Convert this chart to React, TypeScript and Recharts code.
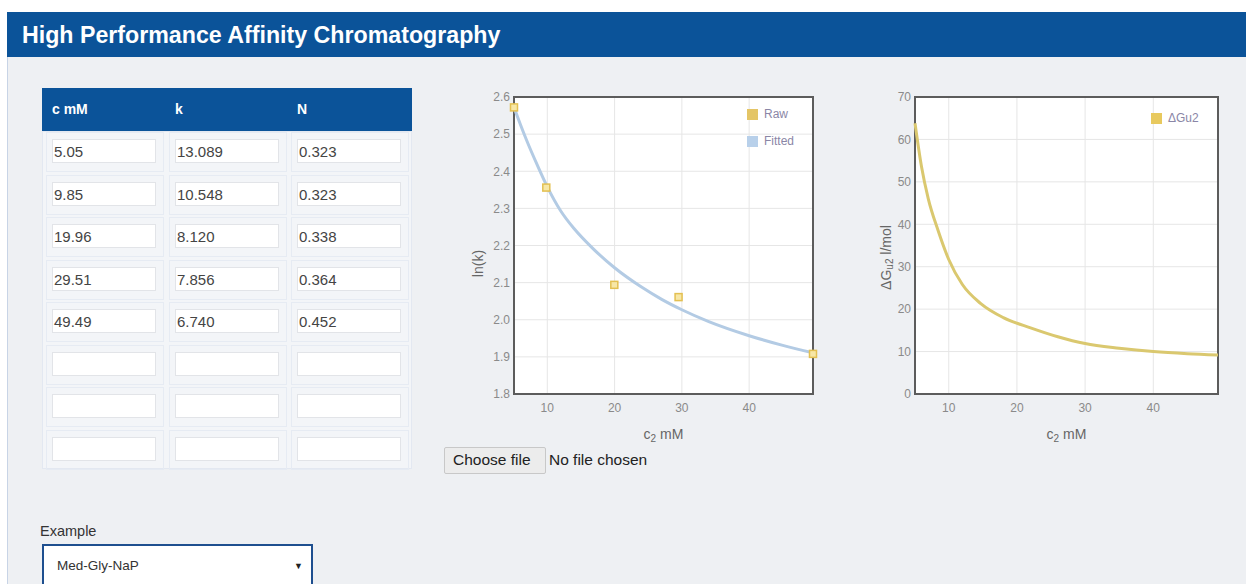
import React from 'react';
import {
  ComposedChart, LineChart, Line, Scatter, XAxis, YAxis, CartesianGrid, ReferenceArea,
} from 'recharts';

// ---- table data ----
const tableHeaders = ['c mM', 'k', 'N'];
const cValues = ['5.05', '9.85', '19.96', '29.51', '49.49'];
const kValues = ['13.089', '10.548', '8.120', '7.856', '6.740'];
const nValues = ['0.323', '0.323', '0.338', '0.364', '0.452'];
const emptyRowCount = 3;

// ---- chart 1: ln(k) vs c2 ----
const rawC = [5.05, 9.85, 19.96, 29.51, 49.49];
const rawLnK = [2.572, 2.356, 2.094, 2.061, 1.908];
const fitC = [5.05, 6, 7, 8.5, 10, 12, 14, 16.6, 20, 24, 27, 30, 34, 40, 45, 49.49];
const fitLnK = [2.572, 2.526, 2.48, 2.417, 2.358, 2.293, 2.245, 2.195, 2.14, 2.088, 2.055, 2.027, 1.995, 1.957, 1.931, 1.911];
const lnkTicks = [1.8, 1.9, 2.0, 2.1, 2.2, 2.3, 2.4, 2.5, 2.6];
const cTicks = [10, 20, 30, 40];

// ---- chart 2: dGu2 vs c2 ----
const gC = [5.05, 6, 7, 8.4, 10, 12, 14.7, 18, 22, 26, 30, 35, 40, 45, 49.49];
const gVals = [63.8, 53.6, 46.0, 38.7, 31.7, 25.8, 21.3, 18.0, 15.6, 13.5, 11.9, 10.8, 10.0, 9.5, 9.2];
const gTicks = [0, 10, 20, 30, 40, 50, 60, 70];

const rawData = rawC.map((c, i) => ({ c, v: rawLnK[i] }));
const fitData = fitC.map((c, i) => ({ c, v: fitLnK[i] }));
const gData = gC.map((c, i) => ({ c, v: gVals[i] }));

const FONT = '"Liberation Sans", Arial, Helvetica, sans-serif';
const BLUE = '#0b5399';
const BG = '#eef0f3';
const TICK = { fill: '#8a8a8a', fontSize: 12, fontFamily: FONT };

const XLabel = (props: any) => {
  const vb = props.viewBox;
  const cx = vb.x + vb.width / 2;
  return (
    <text x={cx} y={vb.y + 45} textAnchor="middle" fill="#666" fontSize={14} fontFamily={FONT}>
      <tspan>c</tspan>
      <tspan dy={3} fontSize={10}>2</tspan>
      <tspan dy={-3}> mM</tspan>
    </text>
  );
};

const makeYLabel = (dx: number, dy: number, kind: 'lnk' | 'g') => (props: any) => {
  const vb = props.viewBox;
  const cx = vb.x + dx;
  const cy = vb.y + vb.height / 2 + dy;
  return (
    <text x={cx} y={cy} textAnchor="middle" dominantBaseline="central" fill="#666" fontSize={14}
      fontFamily={FONT} transform={`rotate(-90, ${cx}, ${cy})`}>
      {kind === 'lnk' ? (
        <tspan>ln(k)</tspan>
      ) : (
        <>
          <tspan>ΔG</tspan>
          <tspan dy={3} fontSize={10}>u2</tspan>
          <tspan dy={-3}> l/mol</tspan>
        </>
      )}
    </text>
  );
};

const RawDot = (props: any) => {
  const { cx, cy } = props;
  if (cx == null || cy == null) return null;
  return <rect x={cx - 3.5} y={cy - 3.5} width={7} height={7} fill="#f7e7a6" stroke="#e3c052" strokeWidth={1.5} />;
};

const LegendItem = ({ color, label, top, left }: any) => (
  <div style={{ position: 'absolute', left, top, display: 'flex', alignItems: 'center', fontFamily: FONT, fontSize: 12, color: '#8a86a6' }}>
    <div style={{ width: 11, height: 11, background: color, marginRight: 6 }} />
    <span>{label}</span>
  </div>
);

const inputStyle: React.CSSProperties = {
  position: 'absolute', width: 104, height: 24, background: '#fff', border: '1px solid #e2e4e8',
  boxSizing: 'border-box', fontFamily: FONT, fontSize: 15, color: '#444', paddingLeft: 1, lineHeight: '23px',
};

export default function App() {
  const rowTops = [139, 182, 224, 267, 309, 352, 394, 437];
  const colLefts = [52, 175, 297];
  const rows: string[][] = cValues.map((c, i) => [c, kValues[i], nValues[i]]);
  for (let i = 0; i < emptyRowCount; i++) rows.push(['', '', '']);

  return (
    <div style={{ position: 'absolute', left: 0, top: 0, width: 1246, height: 584, background: '#fff', overflow: 'hidden', fontFamily: FONT }}>
      {/* header */}
      <div style={{ position: 'absolute', left: 7, top: 12, width: 1239, height: 45, background: BLUE }} />
      <div style={{ position: 'absolute', left: 22, top: 20, color: '#fff', fontWeight: 'bold', fontSize: 23.2, lineHeight: '30px', whiteSpace: 'nowrap' }}>
        High Performance Affinity Chromatography
      </div>
      {/* content panel */}
      <div style={{ position: 'absolute', left: 7, top: 57, width: 1239, height: 527, background: BG, borderLeft: '1px solid #c8d4e6', boxSizing: 'border-box' }} />

      {/* table */}
      <div style={{ position: 'absolute', left: 42, top: 88, width: 370, height: 43, background: BLUE }} />
      {tableHeaders.map((h, i) => (
        <div key={h} style={{ position: 'absolute', left: colLefts[i], top: 101, color: '#fff', fontWeight: 'bold', fontSize: 14, lineHeight: '16px' }}>{h}</div>
      ))}
      <div style={{ position: 'absolute', left: 42, top: 131, width: 370, height: 338, background: '#f3f5f8', border: '1px solid #e3e8f1', boxSizing: 'border-box' }} />
      {rows.map((r, ri) =>
        r.map((val, ci) => (
          <React.Fragment key={`${ri}-${ci}`}>
            <div style={{ position: 'absolute', left: colLefts[ci] - 6, top: rowTops[ri] - 7, width: 118, height: 40, border: '1px solid #e6ebf3', boxSizing: 'border-box' }} />
            <div style={{ ...inputStyle, left: colLefts[ci], top: rowTops[ri] }}>{val}</div>
          </React.Fragment>
        ))
      )}

      {/* example select */}
      <div style={{ position: 'absolute', left: 40, top: 523, fontSize: 14.5, color: '#333', lineHeight: '17px' }}>Example</div>
      <div style={{ position: 'absolute', left: 42, top: 544, width: 271, height: 42, background: '#fff', border: '2px solid #1e4f8f', boxSizing: 'border-box' }} />
      <div style={{ position: 'absolute', left: 57, top: 558, fontSize: 13.5, color: '#333', lineHeight: '16px' }}>Med-Gly-NaP</div>
      <div style={{ position: 'absolute', left: 294, top: 560, fontSize: 9, color: '#222', lineHeight: '12px' }}>▼</div>

      {/* file chooser */}
      <div style={{ position: 'absolute', left: 444, top: 447, width: 102, height: 27, background: '#ececec', border: '1px solid #c8c8c8', boxSizing: 'border-box', borderRadius: 2 }} />
      <div style={{ position: 'absolute', left: 453, top: 451, fontSize: 15.5, color: '#222', lineHeight: '18px' }}>Choose file</div>
      <div style={{ position: 'absolute', left: 549, top: 451, fontSize: 15.5, color: '#222', lineHeight: '18px' }}>No file chosen</div>

      {/* chart 1 */}
      <div style={{ position: 'absolute', left: 440, top: 85 }}>
        <ComposedChart width={390} height={370} margin={{ top: 12, right: 17, bottom: 16, left: 0 }}>
          <CartesianGrid stroke="#e6e6e6" fill="#fff" />
          <XAxis type="number" dataKey="c" domain={[5.05, 49.49]} ticks={cTicks} axisLine={false} tickLine={false}
            tick={TICK} tickSize={4} tickMargin={5} height={45} label={{ content: XLabel }} />
          <YAxis type="number" dataKey="v" domain={[1.8, 2.6]} ticks={lnkTicks} axisLine={false} tickLine={false}
            tick={TICK} tickSize={2} tickMargin={2} width={74} tickFormatter={(v: number) => v.toFixed(1)}
            label={{ content: makeYLabel(38, 18, 'lnk') }} />
          <Line data={fitData} dataKey="v" type="monotone" stroke="#b3cbe4" strokeWidth={3} dot={false} isAnimationActive={false} />
          <Scatter data={rawData} dataKey="v" shape={RawDot} isAnimationActive={false} />
          <ReferenceArea x1={5.05} x2={49.49} y1={1.8} y2={2.6} fill="none" stroke="#5c5c5c" strokeWidth={2} />
        </ComposedChart>
        <LegendItem color="#e4c566" label="Raw" left={307} top={22} />
        <LegendItem color="#b8d0ea" label="Fitted" left={307} top={49} />
      </div>

      {/* chart 2 */}
      <div style={{ position: 'absolute', left: 860, top: 85 }}>
        <LineChart width={375} height={370} margin={{ top: 12, right: 17, bottom: 16, left: 0 }} data={gData}>
          <CartesianGrid stroke="#e6e6e6" fill="#fff" />
          <XAxis type="number" dataKey="c" domain={[5.05, 49.49]} ticks={cTicks} axisLine={false} tickLine={false}
            tick={TICK} tickSize={4} tickMargin={5} height={45} label={{ content: XLabel }} />
          <YAxis type="number" domain={[0, 70]} ticks={gTicks} axisLine={false} tickLine={false}
            tick={TICK} tickSize={2} tickMargin={2} width={55}
            label={{ content: makeYLabel(26, 12, 'g') }} />
          <Line dataKey="v" type="monotone" stroke="#dac86f" strokeWidth={3} dot={false} isAnimationActive={false} />
          <ReferenceArea x1={5.05} x2={49.49} y1={0} y2={70} fill="none" stroke="#5c5c5c" strokeWidth={2} />
        </LineChart>
        <LegendItem color="#e8c95e" label="ΔGu2" left={291} top={26} />
      </div>
    </div>
  );
}
